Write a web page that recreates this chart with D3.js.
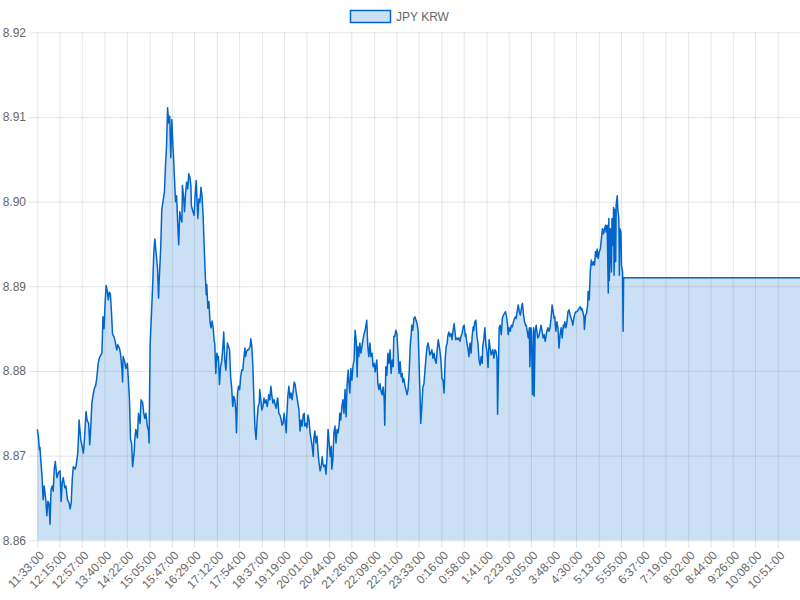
<!DOCTYPE html>
<html>
<head>
<meta charset="utf-8">
<script src="https://cdn.jsdelivr.net/npm/d3@7"></script>
<style>
  body { margin: 0; background: #fff; }
  svg { display: block; font-family: "Liberation Sans", Arial, Helvetica, sans-serif; }
</style>
</head>
<body>
<svg width="800" height="600"></svg>
<script>
// series name shown in the legend
const seriesName = "JPY KRW";
// first sample of the day, every other time is measured from here
const startTime = "11:33:00";
const dayMinutes = 1440;

const tickLabels = ["11:33:00","12:15:00","12:57:00","13:40:00","14:22:00","15:05:00","15:47:00",
  "16:29:00","17:12:00","17:54:00","18:37:00","19:19:00","20:01:00","20:44:00","21:26:00",
  "22:09:00","22:51:00","23:33:00","0:16:00","0:58:00","1:41:00","2:23:00","3:05:00","3:48:00",
  "4:30:00","5:13:00","5:55:00","6:37:00","7:19:00","8:02:00","8:44:00","9:26:00","10:08:00","10:51:00"];

const yTicks = [8.86, 8.87, 8.88, 8.89, 8.90, 8.91, 8.92];

// minutes after 11:33
const minutes = [
  0,2,4,5,7,9,11,13,16,18,20,22,24,26,28,30,32,34,37,40,43,45,47,49,52,54,57,60,62,64,66,68,71,73,76,77,79,82,84,87,89,92,94,97,99,
  101,103,106,108,110,112,115,117,120,122,124,126,128,130,132,134,136,138,140,142,145,147,150,152,155,157,160,161,162,165,167,170,172,174,176,178,180,183,184,186,189,191,194,196,199,
  201,203,205,208,210,211,213,216,218,220,222,224,227,229,230,233,235,237,239,240,242,244,246,248,250,252,254,256,257,259,261,263,265,267,269,271,273,274,276,278,280,282,284,286,288,290,291,293,296,298,
  300,302,303,305,307,309,311,313,315,317,319,320,322,324,326,328,330,332,334,335,337,339,341,342,344,346,348,350,352,354,356,358,359,361,363,365,367,369,371,373,375,376,378,380,382,384,386,388,390,392,393,395,397,399,
  402,403,405,407,409,411,413,415,417,419,420,422,424,426,428,430,432,434,436,437,439,441,443,445,447,449,451,453,454,456,458,460,462,464,466,468,470,471,473,475,477,479,481,483,485,487,488,490,492,494,496,498,
  500,502,504,505,507,509,511,513,515,517,519,521,522,524,526,528,530,532,534,536,538,539,541,543,545,547,549,551,553,555,556,558,560,562,564,566,568,570,571,573,575,577,579,581,583,585,587,588,590,592,594,596,598,
  600,602,604,605,607,609,611,613,615,617,619,621,622,624,626,628,630,632,634,636,638,639,641,643,645,647,649,651,653,655,656,658,660,662,664,666,668,670,672,673,675,677,679,681,683,685,687,689,690,692,694,696,698,
  700,702,704,706,707,709,711,713,715,717,719,721,723,724,726,728,730,732,734,736,738,740,741,743,745,747,749,751,753,755,757,758,760,762,764,766,768,770,772,774,775,777,779,781,783,785,787,789,790,792,794,796,798,
  800,802,804,806,808,809,811,813,815,817,819,821,823,824,826,828,830,832,834,836,838,840,841,843,845,847,849,851,853,855,857,859,860,862,864,866,868,869,871,872,874,876,878,880,882,884,886,888,889,891,893,895,897,899,
  901,903,904,906,908,910,912,914,916,918,920,922,923,925,927,929,930,932,933,935,937,938,940,942,944,945,947,949,951,953,955,957,959,960,962,964,966,968,970,972,974,976,977,979,981,983,985,987,989,991,993,994,996,998,
  1000,1002,1004,1006,1008,1010,1011,1013,1015,1017,1019,1021,1023,1025,1027,1028,1030,1032,1033,1035,1037,1039,1040,1042,1044,1046,1048,1050,1052,1054,1056,1057,1059,1061,1063,1065,1067,1069,1071,1073,1074,1076,1078,1079,
  1080,1082,1084,1085,1087,1088,1089,1091,1092,1093,1095,1096,1098,1099,1100,1102,1103,1105,1106,1107,1440
];

const rates = [
  8.8731,8.8723,8.8707,8.871,8.8691,8.8676,8.8648,8.8664,8.8648,8.8629,8.8646,8.8644,8.8619,8.866,8.8664,8.8658,8.8684,8.8693,8.8674,8.868,8.8682,8.8646,8.8668,8.8674,8.8662,8.8664,8.8648,8.8644,8.8637,8.8644,8.8672,8.8687,8.8684,8.8687,8.8701,8.8711,8.8742,8.8719,8.8713,8.8703,8.8719,8.8752,8.8742,8.8738,8.8713,
  8.8734,8.8762,8.8774,8.878,8.8782,8.879,8.8809,8.8815,8.8819,8.8821,8.8864,8.885,8.888,8.8901,8.8895,8.8884,8.8893,8.8891,8.887,8.8844,8.884,8.8835,8.8825,8.8831,8.8827,8.8821,8.8801,8.8787,8.8817,8.8811,8.8803,8.8809,8.8789,8.8766,8.8719,8.8715,8.8687,8.8705,8.8719,8.8731,8.8721,8.875,8.8738,8.8766,8.8762,
  8.875,8.8744,8.875,8.8734,8.8729,8.8715,8.8831,8.8874,8.8904,8.8941,8.8956,8.8941,8.8921,8.8886,8.8905,8.8945,8.899,8.8999,8.9007,8.9011,8.9042,8.9066,8.9111,8.9093,8.9101,8.9052,8.9097,8.9066,8.9056,8.9027,8.9,8.9007,8.8976,8.8949,8.8988,8.898,8.8976,8.9019,8.9007,8.8988,8.9011,8.9023,8.9015,8.9033,8.9029,8.9019,8.8995,8.899,8.8984,8.9007,
  8.9025,8.8995,8.898,8.9003,8.8999,8.9017,8.9007,8.8984,8.8949,8.8915,8.889,8.8902,8.8874,8.8882,8.8859,8.8851,8.8859,8.8851,8.8835,8.8833,8.8797,8.8821,8.8813,8.8817,8.8784,8.8805,8.8811,8.8825,8.8846,8.8813,8.8801,8.8823,8.8833,8.8829,8.8825,8.8793,8.878,8.8758,8.877,8.8766,8.875,8.8727,8.8774,8.8782,8.8778,8.8793,8.8801,8.8801,8.8815,8.8827,8.8817,8.8823,8.8825,8.8825,
  8.8829,8.8838,8.8829,8.8805,8.8766,8.8733,8.8719,8.8742,8.8758,8.8762,8.8778,8.8766,8.8754,8.8758,8.8768,8.8762,8.8766,8.8758,8.8766,8.8772,8.8766,8.8782,8.877,8.8762,8.8766,8.876,8.8756,8.8766,8.8768,8.875,8.8748,8.8744,8.8736,8.8738,8.875,8.874,8.8727,8.8746,8.877,8.8782,8.8768,8.8774,8.8766,8.8776,8.8787,8.8784,8.8778,8.877,8.8762,8.8754,8.8729,8.8742,
  8.8735,8.8748,8.875,8.8735,8.8738,8.8733,8.8748,8.8742,8.8727,8.8719,8.8711,8.8699,8.8719,8.8729,8.8715,8.8723,8.8705,8.8691,8.8682,8.8687,8.8699,8.8691,8.8687,8.8689,8.8678,8.8699,8.8731,8.8715,8.8699,8.8711,8.8684,8.8695,8.8727,8.8735,8.8715,8.8731,8.8727,8.8738,8.875,8.8742,8.8758,8.8766,8.875,8.8778,8.8746,8.8785,8.8801,8.8789,8.8774,8.8803,8.8789,8.8805,8.8813,
  8.8848,8.8837,8.8793,8.8829,8.8817,8.8833,8.8821,8.8829,8.8837,8.8844,8.8848,8.8856,8.886,8.8829,8.8817,8.8833,8.8817,8.8821,8.8805,8.8809,8.8799,8.8805,8.8813,8.8785,8.8778,8.8785,8.8776,8.8772,8.8781,8.8766,8.8736,8.8805,8.8795,8.8821,8.8809,8.8825,8.8797,8.8813,8.8805,8.8841,8.8841,8.8848,8.8844,8.8821,8.8797,8.8811,8.8793,8.8797,8.8787,8.8791,8.8783,8.8778,8.8772,
  8.8778,8.8797,8.8829,8.8844,8.8854,8.8848,8.8862,8.8864,8.886,8.8856,8.8848,8.8805,8.8762,8.8738,8.8758,8.8781,8.8785,8.8801,8.8817,8.8829,8.8833,8.8825,8.8819,8.8821,8.8825,8.8815,8.8821,8.8813,8.8809,8.8825,8.8837,8.8833,8.8825,8.8813,8.8791,8.8789,8.8774,8.8813,8.8829,8.8833,8.8841,8.8846,8.8841,8.8844,8.8837,8.8848,8.8856,8.8844,8.8837,8.8839,8.8837,8.8839,8.8835,
  8.8841,8.8844,8.8852,8.8854,8.8841,8.8844,8.8833,8.8827,8.8817,8.8833,8.8821,8.8841,8.8852,8.8848,8.8858,8.886,8.8841,8.8833,8.8813,8.8807,8.8817,8.8809,8.8829,8.8837,8.8851,8.8831,8.8823,8.8804,8.8837,8.8827,8.8819,8.8823,8.8825,8.8815,8.8825,8.8823,8.8815,8.8749,8.8815,8.8851,8.8854,8.8843,8.8862,8.8866,8.8868,8.887,8.8864,8.8854,8.8843,8.8851,8.8847,8.8854,8.8852,8.8858,
  8.8862,8.8864,8.8862,8.887,8.8878,8.887,8.8866,8.8874,8.888,8.8866,8.8858,8.8854,8.8854,8.8847,8.8839,8.8851,8.8805,8.8851,8.8847,8.8772,8.8851,8.877,8.8847,8.8854,8.8843,8.8839,8.8841,8.8847,8.8854,8.8847,8.8839,8.8843,8.8835,8.8839,8.8847,8.8851,8.8847,8.8851,8.8862,8.8878,8.887,8.8862,8.8864,8.8847,8.8858,8.8851,8.8827,8.8843,8.8851,8.8839,8.8854,8.8851,8.8858,8.8851,
  8.8858,8.887,8.8872,8.8866,8.8862,8.8858,8.8854,8.8862,8.8868,8.887,8.887,8.8872,8.8874,8.8876,8.8872,8.8874,8.887,8.8864,8.8849,8.8866,8.8868,8.8878,8.8894,8.8884,8.8917,8.8931,8.8925,8.8929,8.8925,8.8941,8.8935,8.8944,8.8933,8.8941,8.8944,8.8956,8.8968,8.8962,8.8968,8.8972,8.8964,8.8972,8.8892,8.898,
  8.8907,8.8968,8.8917,8.898,8.8948,8.8993,8.8913,8.8991,8.8929,8.8997,8.9007,8.8991,8.898,8.8913,8.8968,8.8964,8.8925,8.8917,8.8847,8.891,8.891
];

const svg = d3.select("svg");
const width = +svg.attr("width");

const data = minutes.map((m, i) => ({ m: m, v: rates[i] })).filter(d => d.v !== undefined);

// turn "H:MM:SS" into minutes after the start time
function offsetOf(label) {
  const p = label.split(":").map(Number);
  const s = startTime.split(":").map(Number);
  return ((p[0] * 60 + p[1]) - (s[0] * 60 + s[1]) + dayMinutes) % dayMinutes;
}

const plotLeft = 37.3, plotTop = 32.3, plotBottom = 540.3;
const x = d3.scaleLinear().domain([0, dayMinutes]).range([plotLeft, width]);
const y = d3.scaleLinear().domain([yTicks[0], yTicks[yTicks.length - 1]]).range([plotBottom, plotTop]);

// y grid + labels (axis sits on the right edge so ticks run leftwards past the plot)
const yAxis = svg.append("g")
  .attr("transform", `translate(${width},0)`)
  .call(d3.axisLeft(y).tickValues(yTicks).tickSize(width - 29).tickPadding(3).tickFormat(d3.format(".2f")));
yAxis.select(".domain").remove();
yAxis.selectAll("line").attr("stroke", "rgba(0,0,0,0.1)");
yAxis.selectAll("text").attr("fill", "#666").style("font-size", "12px");

// x grid + rotated labels
const xAxis = svg.append("g")
  .attr("transform", `translate(0,${plotTop})`)
  .call(d3.axisBottom(x).tickValues(tickLabels.map(offsetOf)).tickSize(548 - plotTop)
    .tickFormat((d, i) => tickLabels[i]));
xAxis.select(".domain").remove();
xAxis.selectAll("line").attr("stroke", "rgba(0,0,0,0.1)");
xAxis.selectAll("text")
  .attr("fill", "#666")
  .style("font-size", "12px")
  .style("text-anchor", "end")
  .attr("x", 0).attr("y", 0).attr("dy", "0.35em")
  .attr("transform", `translate(4,${553 - plotTop}) rotate(-46)`);

// area + line
const area = d3.area().x(d => x(d.m)).y0(y(yTicks[0])).y1(d => y(d.v));
const line = d3.line().x(d => x(d.m)).y(d => y(d.v));

svg.append("path").datum(data)
  .attr("d", area)
  .attr("fill", "rgba(0,102,204,0.2)");

svg.append("path").datum(data)
  .attr("d", line)
  .attr("fill", "none")
  .attr("stroke", "#0066cc")
  .attr("stroke-width", 1.5)
  .attr("stroke-linejoin", "round");

// legend
const legend = svg.append("g");
legend.append("rect")
  .attr("x", 350.5).attr("y", 10.5).attr("width", 40).attr("height", 12)
  .attr("fill", "rgba(0,102,204,0.2)")
  .attr("stroke", "#0066cc").attr("stroke-width", 1.5);
legend.append("text")
  .attr("x", 396).attr("y", 20.5)
  .attr("fill", "#666").style("font-size", "12px")
  .text(seriesName);
</script>
</body>
</html>
